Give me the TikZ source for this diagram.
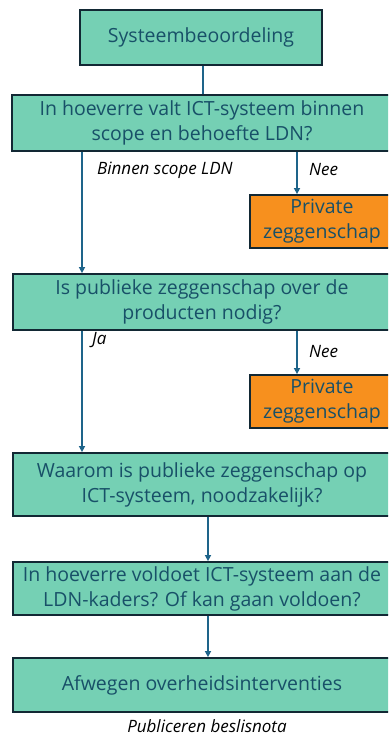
\documentclass[tikz,border=0pt]{standalone}
\usepackage{fontspec}
\setmainfont{Open Sans}
\usepackage{tikz}
\usetikzlibrary{arrows.meta}
\definecolor{mint}{RGB}{117,208,180}
\definecolor{oranje}{RGB}{247,144,30}
\definecolor{tekst}{RGB}{24,80,104}
\definecolor{rand}{RGB}{18,40,52}
\definecolor{pijl}{RGB}{30,100,138}
\tikzset{
	vak/.style={draw=rand,line width=1.8pt,fill=mint,text=tekst,align=center,
		font=\fontsize{19.5}{25}\selectfont,inner sep=0pt},
	priv/.style={vak,fill=oranje},
	lbl/.style={font=\fontsize{17}{20}\selectfont\itshape,text=black,inner sep=0pt},
}

\begin{document}
\begin{tikzpicture}[x=1pt,y=-1pt]
	\useasboundingbox (0,0) rectangle (388,738);
	\clip (0,0) rectangle (388,738);
	%
	\node[vak,minimum width=242,minimum height=55] (S) at (201,37.5) {Systeembeoordeling};
	\node[vak,minimum width=380,minimum height=56] (Q1) at (202,123) {In hoeverre valt ICT-systeem binnen\\scope en behoefte LDN?};
	\node[priv,minimum width=144,minimum height=53] (P1) at (322,221.5) {Private\\zeggenschap};
	\node[vak,minimum width=378,minimum height=56] (Q2) at (202,302) {Is publieke zeggenschap over de\\producten nodig?};
	\node[priv,minimum width=144,minimum height=53] (P2) at (322,401.5) {Private\\zeggenschap};
	\node[vak,minimum width=378,minimum height=63] (Q3) at (202,484.5) {Waarom is publieke zeggenschap op\\ICT-systeem, noodzakelijk?};
	\node[vak,minimum width=378,minimum height=53] (Q4) at (202,588.5) {In hoeverre voldoet ICT-systeem aan de\\LDN-kaders? Of kan gaan voldoen?};
	\node[vak,minimum width=378,minimum height=54] (A) at (202,685) {Afwegen overheidsinterventies};
	%
	\coordinate (L) at (82,0);
	\coordinate (R) at (297,0);
	\coordinate (M) at (203,0);
	\coordinate (N) at (208,0);
	%
	\path[-{Triangle[length=6pt,width=6pt]},every edge/.append style={draw=pijl,line width=1.5pt}]
	(S.south -| M) edge[-] (Q1.north -| M)
	(Q1.south -| L) edge (Q2.north -| L)
	(Q1.south -| R) edge (P1.north -| R)
	(Q2.south -| R) edge (P2.north -| R)
	(Q2.south -| L) edge (Q3.north -| L)
	(Q3.south -| N) edge (Q4.north -| N)
	(Q4.south -| N) edge (A.north -| N);
	%
	\node[lbl,anchor=west] (bs) at (97,170) {Binnen scope LDN};
	\node[lbl,anchor=west] (n1) at (309,170) {Nee};
	\node[lbl,anchor=west] (ja) at (92,340) {Ja};
	\node[lbl,anchor=west] (n2) at (309,352) {Nee};
	\node[lbl] (pb) at (207,726) {Publiceren beslisnota};
\end{tikzpicture}
\end{document}
